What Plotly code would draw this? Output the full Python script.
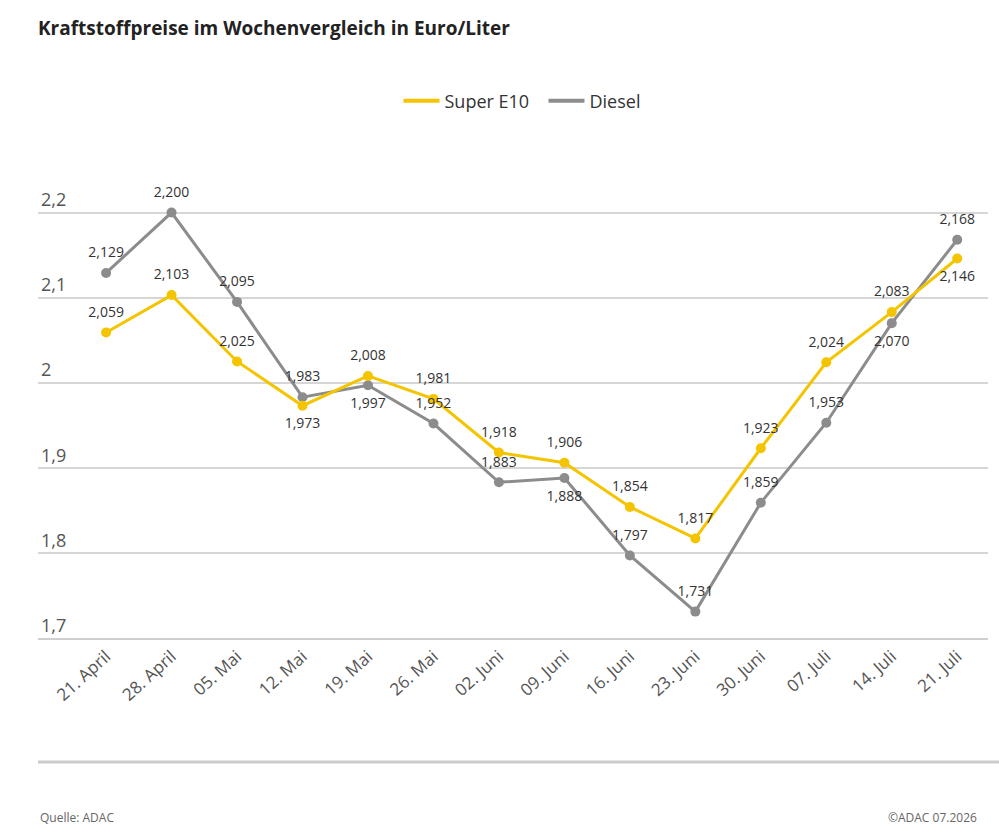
import plotly.graph_objects as go

weeks = ["21. April", "28. April", "05. Mai", "12. Mai", "19. Mai", "26. Mai", "02. Juni",
         "09. Juni", "16. Juni", "23. Juni", "30. Juni", "07. Juli", "14. Juli", "21. Juli"]
super_e10 = [2.059, 2.103, 2.025, 1.973, 2.008, 1.981, 1.918, 1.906, 1.854, 1.817, 1.923, 2.024, 2.083, 2.146]
diesel = [2.129, 2.200, 2.095, 1.983, 1.997, 1.952, 1.883, 1.888, 1.797, 1.731, 1.859, 1.953, 2.070, 2.168]

super_pos = ["top center"] * 14
super_pos[3] = "bottom center"
super_pos[13] = "bottom center"
diesel_pos = ["top center"] * 14
diesel_pos[4] = "bottom center"
diesel_pos[7] = "bottom center"
diesel_pos[12] = "bottom center"

YELLOW = "#F5C400"
GRAY = "#8C8C8C"
FONT = "Open Sans"

idx = list(range(len(weeks)))

fig = go.Figure()
for name, vals, color in [("Diesel", diesel, GRAY), ("Super E10", super_e10, YELLOW)]:
    fig.add_trace(go.Scatter(
        x=idx, y=vals, mode="lines+markers", name=name, showlegend=False,
        line=dict(color=color, width=3), marker=dict(color=color, size=10)))
# data labels (invisible larger markers give the label offset)
for name, vals, pos in [("Diesel", diesel, diesel_pos), ("Super E10", super_e10, super_pos)]:
    fig.add_trace(go.Scatter(
        x=idx, y=vals, mode="markers+text", name=name, showlegend=False, hoverinfo="skip",
        marker=dict(color="rgba(0,0,0,0)", size=18),
        texttemplate="%{y:.3f}", textposition=pos,
        textfont=dict(family=FONT, size=14, color="#333333"), cliponaxis=False))
# legend-only entries (line symbols)
fig.add_trace(go.Scatter(x=[None], y=[None], mode="lines", name="Super E10&nbsp;&nbsp;",
                         line=dict(color=YELLOW, width=4)))
fig.add_trace(go.Scatter(x=[None], y=[None], mode="lines", name="Diesel",
                         line=dict(color=GRAY, width=4)))

L, R, T, B = 38, 11, 170, 194
W, H = 999, 832
pw = W - L - R
ph = H - T - B

def px_x(px):
    return (px - L) / pw

def px_y(py):
    return (H - B - py) / ph

fig.update_layout(
    width=W, height=H,
    margin=dict(l=L, r=R, t=T, b=B, autoexpand=False),
    paper_bgcolor="white", plot_bgcolor="white",
    separators=",.",
    font=dict(family=FONT, color="#444444"),
    title=dict(text="<b>Kraftstoffpreise im Wochenvergleich in Euro/Liter</b>",
               x=38 / W, xanchor="left", xref="container",
               y=1 - 28 / H, yanchor="middle", yref="container",
               font=dict(family=FONT, size=19, color="#222222")),
    legend=dict(orientation="h", xref="container", x=522 / W, xanchor="center",
                yref="container", y=1 - 101 / H, yanchor="middle",
                font=dict(family=FONT, size=18, color="#333333"),
                itemwidth=36, traceorder="normal"),
    xaxis=dict(tickmode="array", tickvals=idx, ticktext=weeks, tickangle=-42,
               range=[-1.04, 13.47], showgrid=False, zeroline=False, automargin=False,
               showline=True, linecolor="#CFCFCF", linewidth=2,
               tickfont=dict(family=FONT, size=17, color="#555555"),
               ticks="", fixedrange=True),
    yaxis=dict(range=[1.7, 2.25], tickvals=[1.7, 1.8, 1.9, 2.0, 2.1, 2.2],
               ticktext=["1,7", "1,8", "1,9", "2", "2,1", "2,2"], automargin=False,
               showgrid=True, gridcolor="#D6D6D6", gridwidth=2, zeroline=False,
               ticklabelposition="inside top", ticks="",
               tickfont=dict(family=FONT, size=18, color="#555555"),
               showline=False, fixedrange=True),
)

fig.add_shape(type="line", xref="paper", yref="paper",
              x0=px_x(38), x1=px_x(999), y0=px_y(762), y1=px_y(762),
              line=dict(color="#CCCCCC", width=3))
fig.add_annotation(text="Quelle: ADAC", xref="paper", yref="paper",
                   x=px_x(38), y=px_y(817), xanchor="left", yanchor="middle",
                   showarrow=False, font=dict(family=FONT, size=12, color="#666666"))
fig.add_annotation(text="©ADAC 07.2026", xref="paper", yref="paper",
                   x=px_x(886), y=px_y(817), xanchor="left", yanchor="middle",
                   showarrow=False, font=dict(family=FONT, size=12, color="#666666"))

fig.write_html("out.html", config={"displayModeBar": False},
               post_script="document.body.style.margin='0';")
